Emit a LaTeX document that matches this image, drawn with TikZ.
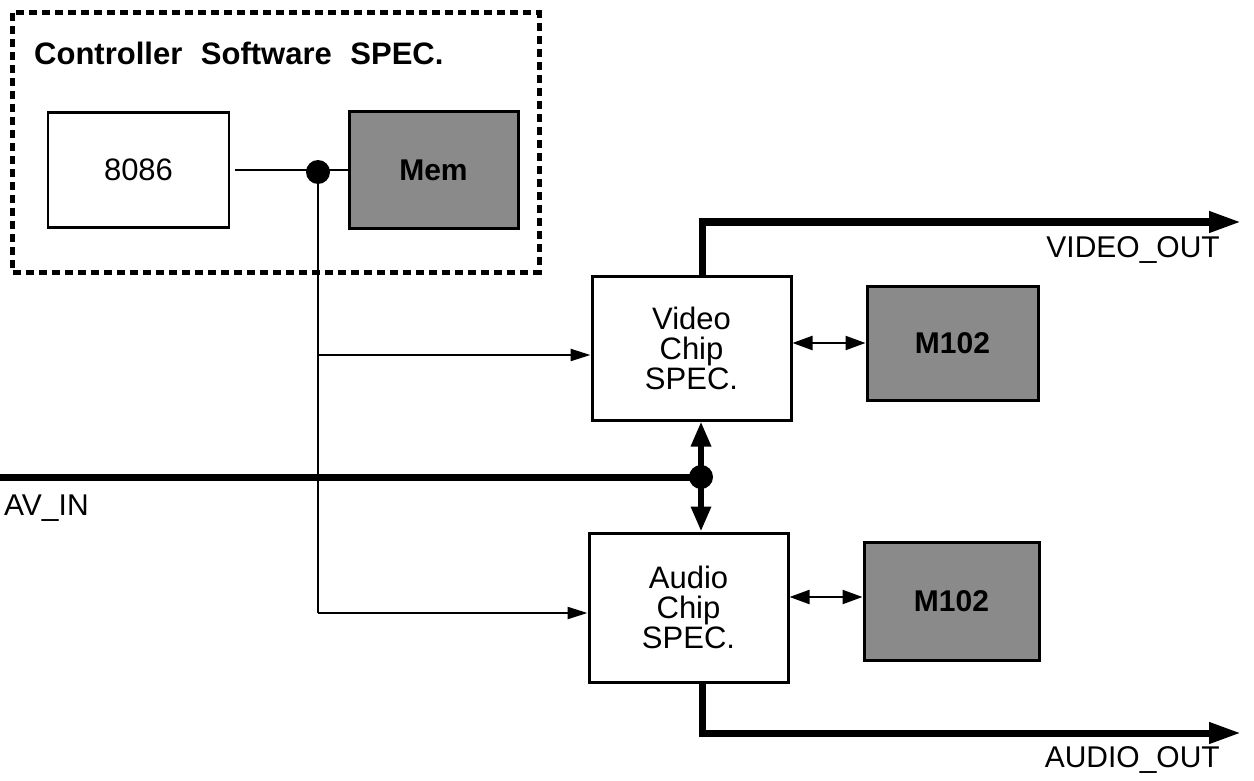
\documentclass[tikz,border=0pt]{standalone}
\usepackage{fontspec}
\setmainfont{Liberation Sans}
\usetikzlibrary{arrows.meta,positioning,calc}
\definecolor{memgray}{HTML}{8A8A8A}

\begin{document}
\begin{tikzpicture}[
    x=1pt, y=-1pt,
    swbox/.style={draw, line width=5pt, dash pattern=on 8pt off 5pt},
    chip/.style={draw, line width=3pt, fill=white, align=center, inner sep=0pt,
        font=\fontsize{31}{30}\selectfont},
    memory/.style={draw, line width=3pt, fill=memgray, inner sep=0pt,
        font=\fontsize{30}{30}\selectfont\bfseries},
    sigline/.style={line width=2.2pt},
    sigarrow/.style={line width=2.2pt, -{Triangle[length=20pt,width=12pt]}},
    dblarrow/.style={line width=2.2pt, {Triangle[length=20pt,width=14pt]}-{Triangle[length=20pt,width=14pt]}},
    busline/.style={line width=7pt},
    busarrow/.style={line width=7pt, -{Triangle[length=32pt,width=20pt]}},
    vbusarrow/.style={line width=6pt, -{Triangle[length=25pt,width=19pt]}},
    junction/.style={circle, fill, inner sep=0pt, minimum size=24pt},
    portlabel/.style={font=\fontsize{30}{30}\selectfont, inner sep=0pt}
]
\useasboundingbox (0,0) rectangle (1254,781);

% Controller software block (dashed frame)
\draw[swbox] (12,13) rectangle (539,272);
\node[font=\fontsize{31}{30}\selectfont\bfseries, anchor=west, inner sep=0pt] (swtitle) at (34,53)
    {Controller\hspace{0.6em}Software\hspace{0.6em}SPEC.};

\node[chip, line width=2.5pt, minimum width=181pt, minimum height=115pt] (cpu) at (138.5,170) {8086};
\node[memory, minimum width=169pt, minimum height=116pt] (mem) at (433.5,170) {Mem};

% Chips and their memories
\node[chip, minimum width=199pt, minimum height=144pt] (vchip) at (691.5,348) {Video\\Chip\\SPEC.};
\node[memory, minimum width=171pt, minimum height=114pt] (vmem) at (952.5,343) {M102};

\node[chip, minimum width=199pt, minimum height=149pt] (achip) at (688.5,607.5) {Audio\\Chip\\SPEC.};
\node[memory, minimum width=175pt, minimum height=118pt] (amem) at (951.5,601) {M102};

% Controller bus
\node[junction] (j1) at (318,172) {};
\draw[sigline, shorten <=5pt] (cpu.east) -- (mem.west);
\coordinate (tapv) at (318,355);
\coordinate (tapa) at (318,613);
\draw[sigline] (j1.center) -- (tapa);
\draw[sigarrow] (tapv) -- (tapv -| vchip.west);
\draw[sigarrow] (tapa) -- (tapa -| achip.west);

% Chip <-> memory
\draw[dblarrow] (vmem.west -| vchip.east) -- (vmem.west);
\draw[dblarrow] ([yshift=4pt]amem.west -| achip.east) -- ([yshift=4pt]amem.west);

% AV input bus
\coordinate (avin) at (0,477);
\node[junction] (j2) at (701,477) {};
\draw[busline] (avin) -- (j2.center);
\draw[vbusarrow] (j2.center) -- (j2 |- vchip.south);
\draw[vbusarrow] (j2.center) -- (j2 |- achip.north);
\node[portlabel, anchor=west] (avinlbl) at (4,508) {AV\_IN};

% Outputs
\coordinate (vout) at (1241,222);
\coordinate (aout) at (1241,733);
\draw[busarrow] ([xshift=11pt]vchip.north) |- (vout);
\draw[busarrow] ([xshift=14pt]achip.south) |- (aout);
\node[portlabel, anchor=east] (voutlbl) at (1220,250) {VIDEO\_OUT};
\node[portlabel, anchor=east] (aoutlbl) at (1220,760) {AUDIO\_OUT};

\end{tikzpicture}
\end{document}
